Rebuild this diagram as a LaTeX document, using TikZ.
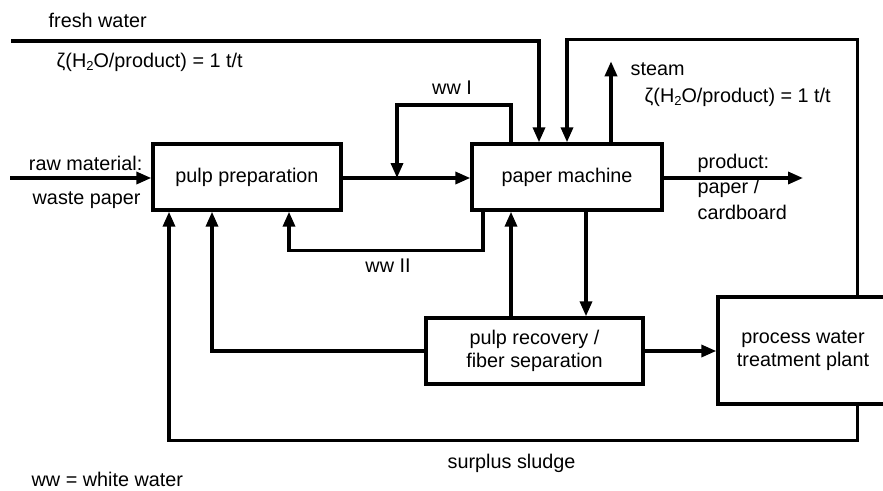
\documentclass[tikz,border=0pt]{standalone}
\usepackage{fontspec}
\setmainfont{Liberation Sans}
\usetikzlibrary{arrows.meta,calc}
\newcommand{\subtwo}{{\fontsize{13}{13}\selectfont\raisebox{-3pt}{2}}}
\begin{document}
\begin{tikzpicture}[x=1pt,y=-1pt,
  font=\fontsize{19.8}{23}\selectfont,
  line width=3.4pt,
  arr/.style={-{Triangle[length=15pt,width=12pt]}},
  box/.style={draw,line width=3.4pt,rectangle,inner sep=0pt,align=center},
  lbl/.style={inner sep=0pt}]
\useasboundingbox (0,0) rectangle (883,490);
\begin{scope}
\clip (0,0) rectangle (883,490);
% boxes
\node[box,minimum width=188pt,minimum height=66pt] (pp) at (247,177) {pulp preparation};
\node[box,minimum width=190pt,minimum height=66pt] (pm) at (567,177) {paper machine};
\node[box,minimum width=217pt,minimum height=66pt] (pr) at (534.5,351) {pulp recovery /\\ fiber separation};
\node[box,minimum width=170pt,minimum height=107pt] (tp) at (803,350.5) {process water\\ treatment plant};
% free ends
\coordinate (rm) at (10,178);
\coordinate (fw) at (11,41);
\coordinate (j1) at (397,178);
\coordinate (prod) at (803,178);
% connectors
\draw[arr] (rm) -- (rm -| pp.west);
\draw[arr] (pp.east |- rm) -- (pm.west |- rm);
\draw[arr] ([xshift=-56pt]pm.north) |- (j1 |- 0,105) -- (j1);
\draw[arr] (fw) -| ([xshift=-28pt]pm.north);
\draw[arr] ([xshift=141pt]tp.north west) |- ([yshift=103pt]pm.north) -- (pm.north);
\draw[arr] ([xshift=44pt]pm.north) -- ++(0,-81);
\draw[arr] (pm.east |- prod) -- (prod);
\draw[arr] ([xshift=-84pt]pm.south) |- ([xshift=42pt,yshift=-39pt]pp.south) -- ([xshift=42pt]pp.south);
\draw[arr] ([xshift=19pt]pm.south) -- ([xshift=19pt]pm.south |- pr.north);
\draw[arr] ([xshift=-56pt]pm.south |- pr.north) -- ([xshift=-56pt]pm.south);
\draw[arr] (pr.west) -| ([xshift=-35pt]pp.south);
\draw[arr] (pr.east) -- (pr.east -| tp.west);
\draw[arr] ([xshift=141pt]tp.south west) |- ([xshift=-78pt,yshift=-229pt]pp.south) -- ([xshift=-78pt]pp.south);
% labels
\node[lbl,anchor=west] (l1) at (47,20) {fresh water};
\node[lbl,anchor=west] (l2) at (55,62) {ζ(H\subtwo O/product) = 1 t/t};
\node[lbl,anchor=east] (l3) at (144,163) {raw material:};
\node[lbl,anchor=west] (l4) at (31,200) {waste paper};
\node[lbl] (l5) at (452,88) {ww I};
\node[lbl,anchor=west] (l6) at (629,69) {steam};
\node[lbl,anchor=west] (l7) at (643,97) {ζ(H\subtwo O/product) = 1 t/t};
\node[lbl,anchor=west] (l8) at (696,163) {product:};
\node[lbl,anchor=west] (l9) at (696,188) {paper /};
\node[lbl,anchor=west] (l10) at (696,212) {cardboard};
\node[lbl] (l11) at (388,266) {ww II};
\node[lbl,anchor=west] (l12) at (446,463) {surplus sludge};
\node[lbl,anchor=west] (l13) at (30,479) {ww = white water};
\end{scope}
\end{tikzpicture}
\end{document}
